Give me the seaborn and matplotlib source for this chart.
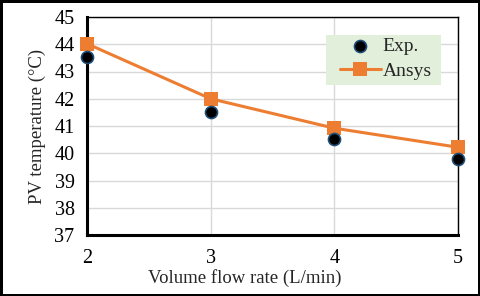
import numpy as np
import pandas as pd
import seaborn as sns
import matplotlib.pyplot as plt
from matplotlib.patches import Rectangle

flow_rate = [2, 3, 4, 5]
exp_temp = [43.52, 41.52, 40.52, 39.78]
ansys_temp = [44.02, 42.0, 40.92, 40.22]

sns.set_style("white")
plt.rcParams['font.family'] = ['Liberation Serif', 'DejaVu Serif']

df = pd.DataFrame({"flow": flow_rate, "Exp.": exp_temp, "Ansys": ansys_temp})

fig = plt.figure(figsize=(4.8, 2.96), dpi=100, edgecolor='black', linewidth=2.5)
ax = fig.add_axes([87 / 480, 1 - 235 / 296, (458 - 87) / 480, (235 - 17) / 296])

sns.lineplot(data=df, x="flow", y="Ansys", ax=ax, color="#ED7D31", linewidth=2.2,
             marker="s", markersize=9.5, markeredgewidth=0, label="Ansys", zorder=3,
             clip_on=False)
sns.scatterplot(data=df, x="flow", y="Exp.", ax=ax, color="black", edgecolor="#1f4e79",
                linewidth=1.2, s=75, label="Exp.", zorder=4, clip_on=False)

ax.set_xlim(2, 5)
ax.set_ylim(37, 45)
ax.set_xticks(flow_rate)
ax.set_yticks(range(37, 46))
ax.grid(True, color="#d9d9d9", linewidth=1)
ax.set_axisbelow(True)

ax.spines['left'].set_linewidth(2.2)
ax.spines['bottom'].set_linewidth(2.2)
ax.spines['top'].set_linewidth(1)
ax.spines['right'].set_linewidth(1)
for s in ax.spines.values():
    s.set_color("black")
ax.tick_params(axis='both', direction='out', length=4, width=1.5, labelsize=14.5, colors='black', pad=5)
ax.tick_params(axis='x', pad=6)

ax.set_xlabel("Volume flow rate (L/min)", fontsize=13.5, labelpad=0)
ax.xaxis.set_label_coords((245 - 87) / (458 - 87), -0.155)
ax.set_ylabel("PV temperature (°C)", fontsize=13.5, labelpad=6)

# legend background box, as in the original
aw, ah = 371, 218
ax.add_patch(Rectangle(((326 - 87) / aw, (235 - 85) / ah), (441 - 326) / aw, 50 / ah,
                       transform=ax.transAxes, facecolor="#e2efda", edgecolor="none", zorder=5))

handles, labels = ax.get_legend_handles_labels()
order = [labels.index("Exp."), labels.index("Ansys")]
leg = ax.legend([handles[i] for i in order], [labels[i] for i in order],
                loc="upper left", bbox_to_anchor=((340 - 87) / aw, (235 - 37) / ah),
                fontsize=14, frameon=False, handlelength=2.1, handletextpad=0.1,
                borderpad=0, labelspacing=0.4, borderaxespad=0)
leg.set_zorder(6)

fig.savefig("out.png", dpi=100, edgecolor=fig.get_edgecolor())
